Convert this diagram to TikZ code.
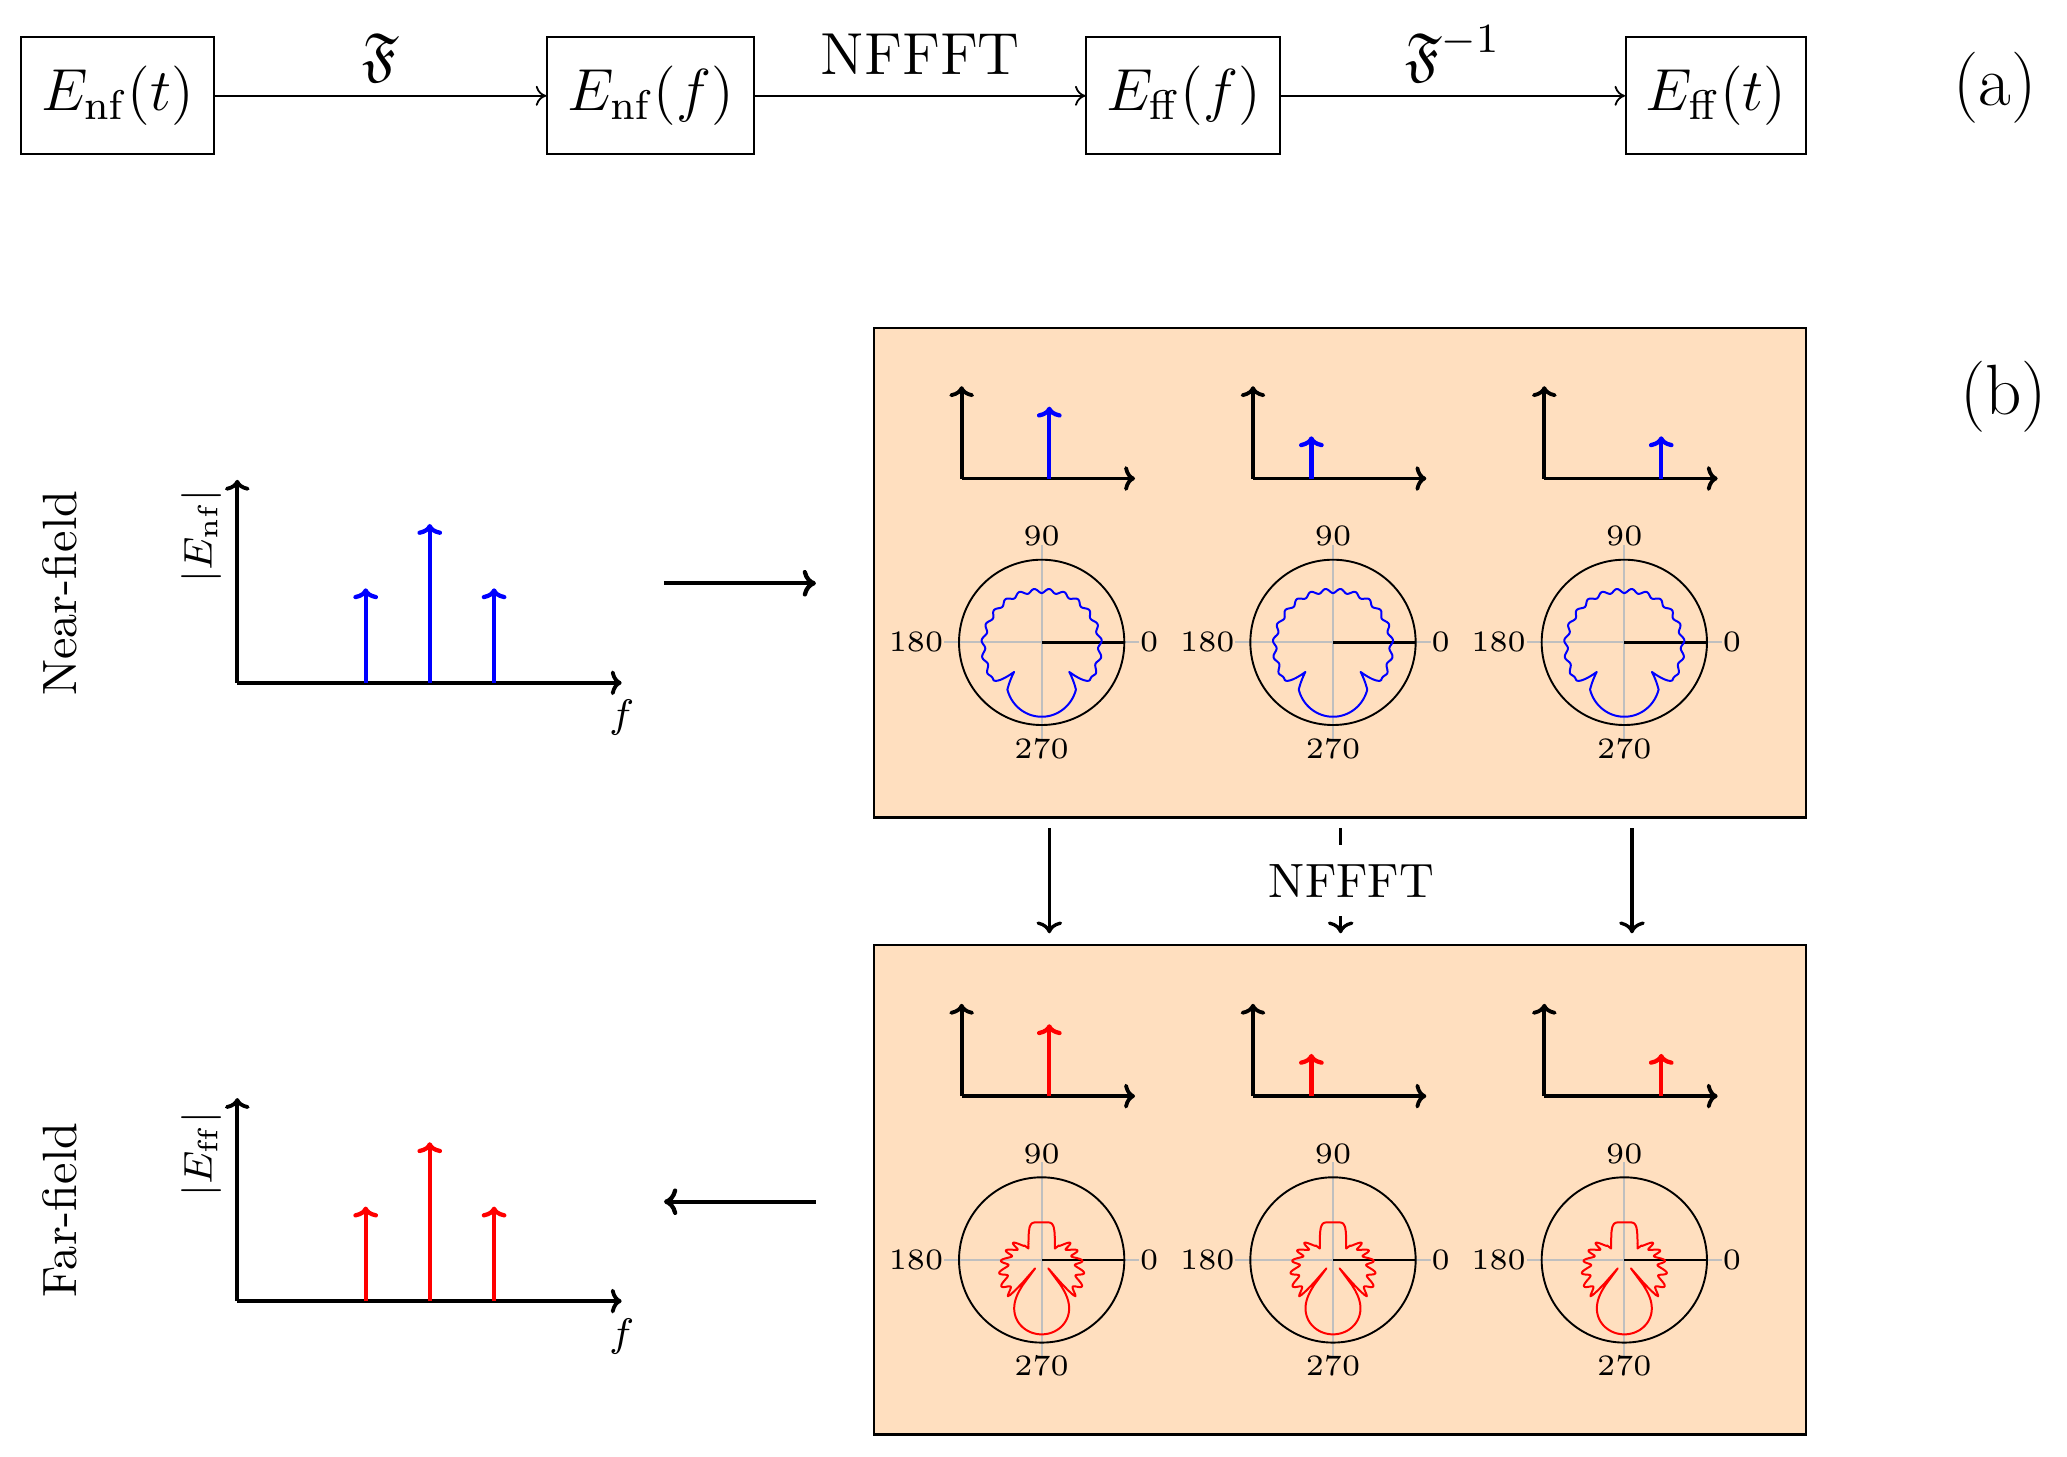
\RequirePackage{fix-cm}
\documentclass[tikz,border=0pt]{standalone}
\usepackage{amsmath,amssymb}
\usetikzlibrary{arrows.meta}
\definecolor{peach}{RGB}{255,223,191}
% one row of three spectra + three polar patterns
% #1 y offset, #2 colour, #3 radius function, #4 tag
\newcommand\fieldrow[4]{%
  \foreach \i/\sx/\sh in {0/66.5/54.5,1/44.3/32,2/88.7/32}{%
    \pgfmathsetmacro\ox{729.5+221*\i}%
    \pgfmathsetmacro\oy{363+#1}%
    \coordinate (o#4\i) at (\ox,\oy);
    \coordinate (oy#4\i) at (\ox,\oy-70);
    \coordinate (ox#4\i) at (\ox+131.5,\oy);
    \coordinate (sa#4\i) at (\ox+\sx,\oy);
    \coordinate (sb#4\i) at (\ox+\sx,\oy-\sh);
    \draw[axisarr] (o#4\i) -- (oy#4\i);
    \draw[axisarr] (o#4\i) -- (ox#4\i);
    \draw[spike,#2] (sa#4\i) -- (sb#4\i);
    \pgfmathsetmacro\cx{790.2+221*\i}%
    \pgfmathsetmacro\cy{487.3+#1}%
    \begin{scope}[shift={(\cx,\cy)}]
      \draw[polgrid] (-74,0) -- (74,0) (0,-74) -- (0,74);
      \draw[polline] (0,0) circle[radius=62.7];
      \draw[polaxis] (0,0) -- (62.7,0);
      \draw[polcurve,#2] plot[domain=-180:180,samples=361,variable=\t]
        ({62.7*#3(abs(\t))*sin(\t)},{62.7*#3(abs(\t))*cos(\t)}) -- cycle;
      \node[pollbl,anchor=west] (l0#4\i) at (74,0) {0};
      \node[pollbl,anchor=east] (l180#4\i) at (-74,0) {180};
      \node[pollbl] (l90#4\i) at (0,-80.5) {90};
      \node[pollbl] (l270#4\i) at (0,80.5) {270};
    \end{scope}
  }%
}
\begin{document}
\begin{tikzpicture}[x=0.2778pt,y=-0.2778pt,
  declare function={
    rnf(\x)=(\x<=36)*0.9*(max(cos(\x),0.01))^1.15
      +and(\x>36,\x<=43)*(0.705-(\x-36)*0.0307)
      +and(\x>43,\x<=52)*(0.49+0.25*sin((\x-43)*10))
      +(\x>52)*(0.74-0.12*(\x-52)/128-0.024*min(1,(\x-52)/8)*cos(22.5*(\x-180)));
    rff(\x)=max(0.13,(\x<=38)*0.9*(max(cos(\x*90/38),0.0001))^0.27
      +and(\x>38,\x<=43)*0.6*sin((\x-38)*18)
      +and(\x>43,\x<=130)*(0.57-0.0028*(\x-42)+0.055*cos(22.5*(\x-41)))
      +(\x>130)*0.16*(max((max(sin(\x),0.05))^6+(0.3516*max(-cos(\x),0.05))^6,0.0001))^(-1/6));
  },
  topbox/.style={draw, line width=0.42pt, minimum height=24.64pt, inner sep=0pt,
    font=\fontsize{12.5}{15}\selectfont},
  toparr/.style={line width=0.38pt, -{To[length=2.2pt,width=4.2pt]}},
  toplbl/.style={midway, anchor=base, inner sep=0pt, yshift=4.56pt,
    font=\fontsize{12.5}{15}\selectfont},
  panel/.style={draw, fill=peach, line width=0.5pt, inner sep=0pt,
    minimum width=196.4pt, minimum height=103.1pt},
  axisarr/.style={line width=0.8pt, -{To[length=2.3pt,width=5.2pt,round]}},
  spike/.style={line width=0.9pt, -{To[length=2.3pt,width=5.2pt,round]}},
  bigarr/.style={line width=0.9pt, -{To[length=2.8pt,width=5.6pt,round]}},
  midarr/.style={line width=0.7pt, -{To[length=2.5pt,width=5.4pt,round]}},
  polgrid/.style={black!25, line width=0.4pt},
  polline/.style={black, line width=0.4pt},
  polaxis/.style={black, line width=0.5pt},
  polcurve/.style={line width=0.42pt, line join=round},
  pollbl/.style={inner sep=0pt, font=\fontsize{6.25}{7.5}\selectfont},
  axlbl/.style={inner sep=0pt, font=\fontsize{8.4}{10}\selectfont},
  sidelbl/.style={inner sep=0pt, rotate=90, font=\fontsize{10.15}{12}\selectfont},
  partlbl/.style={inner sep=0pt, font=\fontsize{15}{18}\selectfont},
]
\useasboundingbox (0,0) rectangle (1568,1105);

% ---------- (a) ----------
\node[topbox, minimum width=40.67pt] (b1) at (89.1,72.7) {$E_{\mathrm{nf}}(t)$};
\node[topbox, minimum width=43.61pt] (b2) at (493.6,72.7) {$E_{\mathrm{nf}}(f)$};
\node[topbox, minimum width=40.86pt] (b3) at (897.7,72.7) {$E_{\mathrm{ff}}(f)$};
\node[topbox, minimum width=37.97pt] (b4) at (1301.8,72.7) {$E_{\mathrm{ff}}(t)$};
\draw[toparr] (b1) -- node[toplbl] (lf) {$\mathfrak{F}$} (b2);
\draw[toparr] (b2) -- node[toplbl] (ln) {NFFFT} (b3);
\draw[toparr] (b3) -- node[toplbl] (lfi) {$\mathfrak{F}^{-1}$} (b4);
\node[partlbl] (pa) at (1513.5,66.5) {(a)};

% ---------- (b) ----------
\node[partlbl] (pb) at (1520,301) {(b)};
\node[sidelbl] (nf) at (45,450) {Near-field};
\node[sidelbl] (ff) at (45,918) {Far-field};

% left spectra
\foreach \oy/\col/\sub/\tag in {518/blue/nf/n, 987/red/ff/f}{
  \coordinate (O\tag) at (180,\oy);
  \coordinate (Y\tag) at (180,\oy-154);
  \coordinate (X\tag) at (471.6,\oy);
  \draw[axisarr] (O\tag) -- (Y\tag);
  \draw[axisarr] (O\tag) -- (X\tag);
  \coordinate (s1\tag) at (277.4,\oy);
  \coordinate (t1\tag) at (277.4,\oy-71.7);
  \coordinate (s2\tag) at (326,\oy);
  \coordinate (t2\tag) at (326,\oy-120.5);
  \coordinate (s3\tag) at (374.8,\oy);
  \coordinate (t3\tag) at (374.8,\oy-71.7);
  \draw[spike,\col] (s1\tag) -- (t1\tag);
  \draw[spike,\col] (s2\tag) -- (t2\tag);
  \draw[spike,\col] (s3\tag) -- (t3\tag);
  \node[axlbl, rotate=90] (ylab\tag) at (153,\oy-111.5) {$|E_{\mathrm{\sub}}|$};
  \node[axlbl] (flab\tag) at (471.6,\oy+26.7) {$f$};
}

% panels
\node[panel] (P1) at (1016.5,434.5) {};
\node[panel] (P2) at (1016.5,902.5) {};
\fieldrow{0}{blue}{rnf}{n}
\fieldrow{468.5}{red}{rff}{f}

% horizontal arrows
\coordinate (na) at (503.7,442.5);
\coordinate (nb) at (619,442.5);
\draw[bigarr] (na) -- (nb);
\coordinate (fa) at (619,911.6);
\coordinate (fb) at (503.7,911.6);
\draw[bigarr] (fa) -- (fb);

% vertical NFFFT arrows
\foreach \i in {0,1,2}{
  \coordinate (ma\i) at (796+221*\i,628.4);
  \coordinate (mb\i) at (796+221*\i,708);
  \draw[midarr] (ma\i) -- (mb\i);
}
\node[fill=white, inner xsep=2pt, inner ysep=4pt, font=\fontsize{10.15}{12}\selectfont]
  (mid) at (1025.3,668.2) {NFFFT};
\end{tikzpicture}
\end{document}
